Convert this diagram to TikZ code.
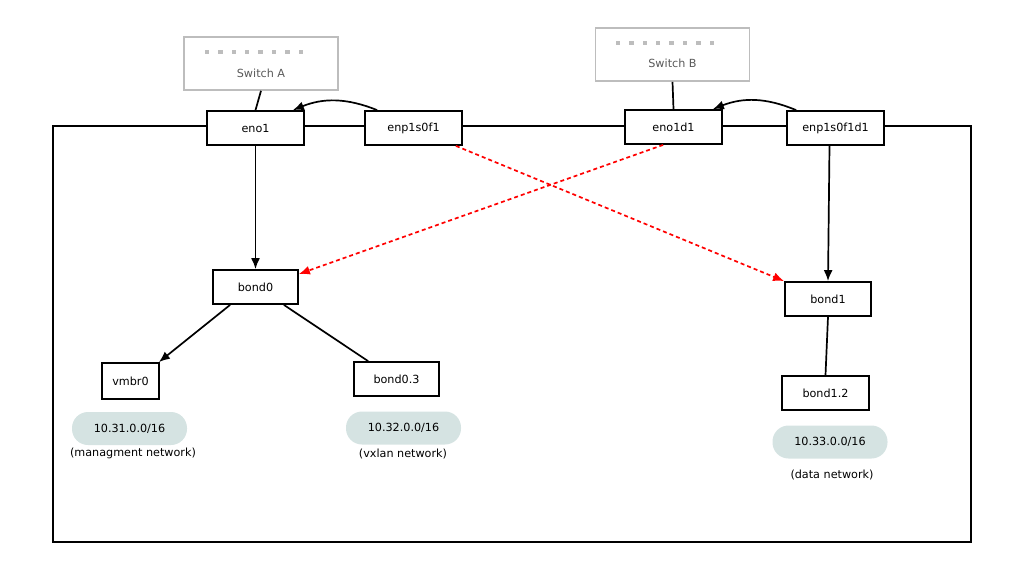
\documentclass[tikz,border=0pt]{standalone}
\usepackage{fontspec}
\setmainfont{DejaVu Sans}
\usetikzlibrary{calc}
\usetikzlibrary{arrows.meta}
\definecolor{pillgray}{HTML}{D5E3E2}
\definecolor{switchgray}{HTML}{BDBDBD}
\begin{document}
\begin{tikzpicture}[
        x=1pt,y=-1pt,
        every node/.style={font=\fontsize{11.2}{13}\selectfont},
        port/.style={draw,fill=white,line width=1.8pt,minimum height=34pt,minimum width=97pt,inner sep=0pt},
        iface/.style={draw,fill=white,line width=1.8pt,minimum height=34pt,minimum width=85pt,inner sep=0pt},
        switchbox/.style={draw=switchgray,line width=1.6pt,minimum height=53pt,minimum width=154pt,inner sep=0pt},
        pill/.style={fill=pillgray,rounded corners=16pt,minimum height=33pt,minimum width=115pt,inner sep=0pt},
        link/.style={line width=1.7pt},
        >={Latex[length=11pt,width=9pt]}
    ]
        \useasboundingbox (0,0) rectangle (1009,566);
        \draw[line width=1.8pt] (53,126) rectangle (971,542);
        % switches
        \node[switchbox] (swa) at (261,63.5) {};
        \node[switchbox] (swb) at (672.5,54.5) {};
        \node[text=black!65] (swatext) at (261,73) {Switch A};
        \node[text=black!65] (swbtext) at (672.5,63) {Switch B};
        \foreach \i in {0,...,7} {
            \fill[switchgray] ($(207,52)+(13.4*\i,0)$) +(-2.2,-2.2) rectangle +(2.2,2.2);
            \fill[switchgray] ($(618,43)+(13.4*\i,0)$) +(-2.2,-2.2) rectangle +(2.2,2.2);
        }
        % ports on the box edge
        \node[port] (eno1) at (255.5,128) {eno1};
        \node[port] (enp1s0f1) at (413.5,128) {enp1s0f1};
        \node[port] (eno1d1) at (673.5,127) {eno1d1};
        \node[port] (enp1s0f1d1) at (835.5,128) {enp1s0f1d1};
        % bonds and bridges
        \node[iface] (bond0) at (255.5,287) {bond0};
        \node[iface,minimum width=57pt,minimum height=36pt] (vmbr0) at (130.5,381) {vmbr0};
        \node[iface] (bond03) at (396.5,379) {bond0.3};
        \node[iface,minimum width=86pt] (bond1) at (828,299) {bond1};
        \node[iface,minimum width=87pt] (bond12) at (825.5,393) {bond1.2};
        % networks
        \node[pill] (net31) at (129.5,428.5) {10.31.0.0/16};
        \node[pill] (net32) at (403.5,428) {10.32.0.0/16};
        \node[pill] (net33) at (830,442) {10.33.0.0/16};
        \node (net31text) at (133,453) {(managment network)};
        \node (net32text) at (403,454) {(vxlan network)};
        \node (net33text) at (832,475) {(data network)};
        % links
        \draw[link] (swa.south) -- (eno1.north);
        \draw[link] (swb.south) -- (eno1d1.north);
        \draw[link,->] (eno1.south) -- (bond0.north);
        \draw[link,->] ($(enp1s0f1d1.south)+(-6,0)$) -- (bond1.north);
        \draw[link,->] ($(enp1s0f1.north west)+(13,0)$) to[bend right=22] ($(eno1.north east)+(-12,0)$);
        \draw[link,->] ($(enp1s0f1d1.north west)+(10,0)$) to[bend right=22] ($(eno1d1.north east)+(-10,0)$);
        \draw[link,->,red,dash pattern=on 4pt off 3pt] ($(enp1s0f1.south east)+(-7,0)$) -- (bond1.north west);
        \draw[link,->,red,dash pattern=on 4pt off 3pt] ($(eno1d1.south west)+(39,0)$) -- ($(bond0.east)+(0,-13)$);
        \draw[link,->] ($(bond0.south west)+(18,0)$) -- ($(vmbr0.north east)+(-1,0)$);
        \draw[link] ($(bond0.south east)+(-15,0)$) -- ($(bond03.north west)+(15,0)$);
        \draw[link] (bond1.south) -- (bond12.north);
    \end{tikzpicture}
\end{document}
